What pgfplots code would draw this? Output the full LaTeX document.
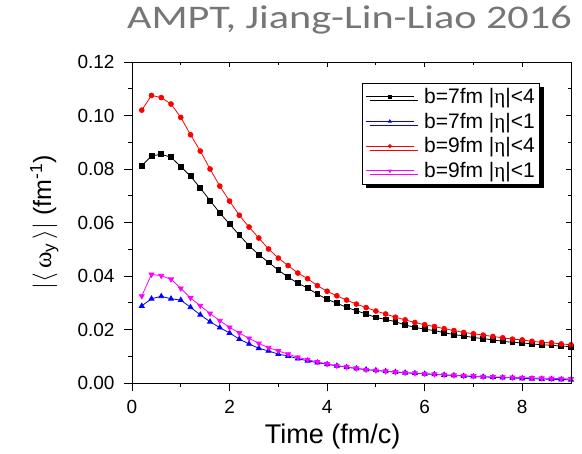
\documentclass[border=0pt]{standalone}
\usepackage{pgfplots}
\pgfplotsset{compat=1.18}
\usepackage{pgfplotstable}
\usepackage{graphicx}
\usepackage{fontspec}
\setmainfont{Liberation Sans}
\newfontfamily\carlito{Carlito}
\newfontfamily\libserif{Liberation Serif}
\usetikzlibrary{shadows}
\definecolor{titlegray}{RGB}{118,118,118}
\definecolor{mblue}{RGB}{0,0,255}
\definecolor{mred}{RGB}{255,0,0}
\definecolor{mmag}{RGB}{255,0,255}

\pgfplotstableread{
x b7e4 b7e1 b9e4 b9e1
0.2 0.0812 0.0288 0.1020 0.0325
0.4 0.0849 0.0315 0.1075 0.0406
0.6 0.0855 0.0324 0.1067 0.0401
0.8 0.0844 0.0315 0.1043 0.0388
1.0 0.0809 0.0310 0.0993 0.0354
1.2 0.0773 0.0283 0.0928 0.0318
1.4 0.0729 0.0255 0.0867 0.0289
1.6 0.0682 0.0229 0.0800 0.0260
1.8 0.0636 0.0207 0.0736 0.0233
2.0 0.0594 0.0187 0.0680 0.0208
2.2 0.0553 0.0164 0.0627 0.0187
2.4 0.0513 0.0146 0.0583 0.0167
2.6 0.0480 0.0130 0.0542 0.0148
2.8 0.0451 0.0120 0.0501 0.0132
3.0 0.0422 0.0108 0.0467 0.0120
3.2 0.0396 0.0101 0.0439 0.0108
3.4 0.0373 0.0091 0.0411 0.0096
3.6 0.0355 0.0083 0.0390 0.0087
3.8 0.0332 0.0076 0.0364 0.0079
4.0 0.0313 0.0070 0.0343 0.0071
4.2 0.0298 0.0064 0.0326 0.0065
4.4 0.0283 0.0059 0.0310 0.0060
4.6 0.0270 0.0054 0.0295 0.0055
4.8 0.0258 0.0050 0.0282 0.0050
5.0 0.0245 0.0047 0.0269 0.0047
5.2 0.0238 0.0044 0.0258 0.0044
5.4 0.0229 0.0041 0.0246 0.0041
5.6 0.0217 0.0038 0.0236 0.0039
5.8 0.0208 0.0036 0.0226 0.0037
6.0 0.0201 0.0034 0.0218 0.0035
6.2 0.0196 0.0032 0.0211 0.0033
6.4 0.0188 0.0030 0.0203 0.0031
6.6 0.0181 0.0028 0.0196 0.0029
6.8 0.0176 0.0026 0.0189 0.0027
7.0 0.0170 0.0024 0.0184 0.0026
7.2 0.0166 0.0023 0.0179 0.0024
7.4 0.0161 0.0021 0.0174 0.0023
7.6 0.0156 0.0020 0.0169 0.0022
7.8 0.0152 0.0019 0.0164 0.0021
8.0 0.0150 0.0017 0.0161 0.0020
8.2 0.0146 0.0016 0.0156 0.0019
8.4 0.0143 0.0015 0.0152 0.0018
8.6 0.0141 0.0014 0.0150 0.0017
8.8 0.0138 0.0013 0.0146 0.0016
9.0 0.0136 0.0012 0.0143 0.0015
}\datatable

\newcommand{\eeta}{{\libserif η}}

\begin{document}
\begin{tikzpicture}
\useasboundingbox (0,0) rectangle (582bp,454bp);
\node[anchor=base east, text=titlegray, inner sep=0pt] at (572bp,425.5bp)
  {\scalebox{1.28}[1]{\carlito\fontsize{33bp}{38bp}\selectfont AMPT, Jiang-Lin-Liao 2016}};
\begin{axis}[
  at={(132bp,71bp)}, anchor=south west,
  scale only axis, width=439bp, height=321bp,
  xmin=0, xmax=9, ymin=0, ymax=0.12,
  xtick={0,2,4,6,8}, ytick={0,0.02,0.04,0.06,0.08,0.10,0.12},
  minor x tick num=1, minor y tick num=1,
  xtick pos=lower, ytick pos=left,
  tick align=outside,
  major tick length=8bp, minor tick length=4bp,
  every tick/.style={black, line width=0.8bp},
  axis line style={line width=0.8bp},
  scaled y ticks=false,
  yticklabel style={/pgf/number format/fixed, /pgf/number format/fixed zerofill, /pgf/number format/precision=2, xshift=-6bp},
  /pgf/number format/assume math mode=true,
  tick label style={font=\fontsize{19bp}{22bp}\selectfont},
  xticklabel style={yshift=-6bp},
  xlabel={Time (fm/c)},
  xlabel style={font=\fontsize{27bp}{30bp}\selectfont, at={(axis description cs:0.457,-0.187)}, anchor=base},
  ylabel={$|\langle\,\mbox{\libserif ω}_{\mbox{\fontsize{17bp}{18bp}\selectfont y}}\,\rangle|$ (fm\textsuperscript{-1})},
  ylabel style={font=\fontsize{25bp}{30bp}\selectfont, at={(axis description cs:-0.2,0.5)}, anchor=center},
  legend style={at={(axis description cs:0.524,0.9346)}, anchor=north west,
    draw=black, line width=0.8bp, fill=white,
    font=\fontsize{21bp}{23bp}\selectfont,
    row sep=4bp, inner xsep=3bp, inner ysep=3bp,
    drop shadow={shadow xshift=4bp, shadow yshift=-4bp, fill=black, opacity=1},
    legend cell align=left},
  legend image code/.code={\draw[mark repeat=2,mark phase=2,#1,mark size=1.6bp] plot coordinates {(0bp,0bp) (24bp,0bp) (48bp,0bp)};
    \path (0bp,0bp) (56bp,0bp);},
]
\addplot[black, line width=0.8bp, mark=square*, mark size=2.4bp] table[x=x,y=b7e4] {\datatable};
\addlegendentry{b=7fm |\eeta|<4}
\addplot[mblue, line width=0.8bp, mark=triangle*, mark size=2.8bp] table[x=x,y=b7e1] {\datatable};
\addlegendentry{b=7fm |\eeta|<1}
\addplot[mred, line width=0.8bp, mark=*, mark size=2.4bp] table[x=x,y=b9e4] {\datatable};
\addlegendentry{b=9fm |\eeta|<4}
\addplot[mmag, line width=0.8bp, mark=triangle*, mark options={rotate=180}, mark size=2.8bp] table[x=x,y=b9e1] {\datatable};
\addlegendentry{b=9fm |\eeta|<1}
\end{axis}
\begin{axis}[
  at={(132bp,71bp)}, anchor=south west,
  scale only axis, width=439bp, height=321bp,
  xmin=0, xmax=9, ymin=0, ymax=0.12,
  xtick={0,2,4,6,8}, ytick={0,0.02,0.04,0.06,0.08,0.10,0.12},
  minor x tick num=1, minor y tick num=1,
  xtick pos=upper, ytick pos=right,
  tick align=inside,
  major tick length=5bp, minor tick length=3bp,
  every tick/.style={black, line width=0.8bp},
  axis line style={line width=0.8bp},
  xticklabels={}, yticklabels={},
]
\end{axis}
\end{tikzpicture}
\end{document}
